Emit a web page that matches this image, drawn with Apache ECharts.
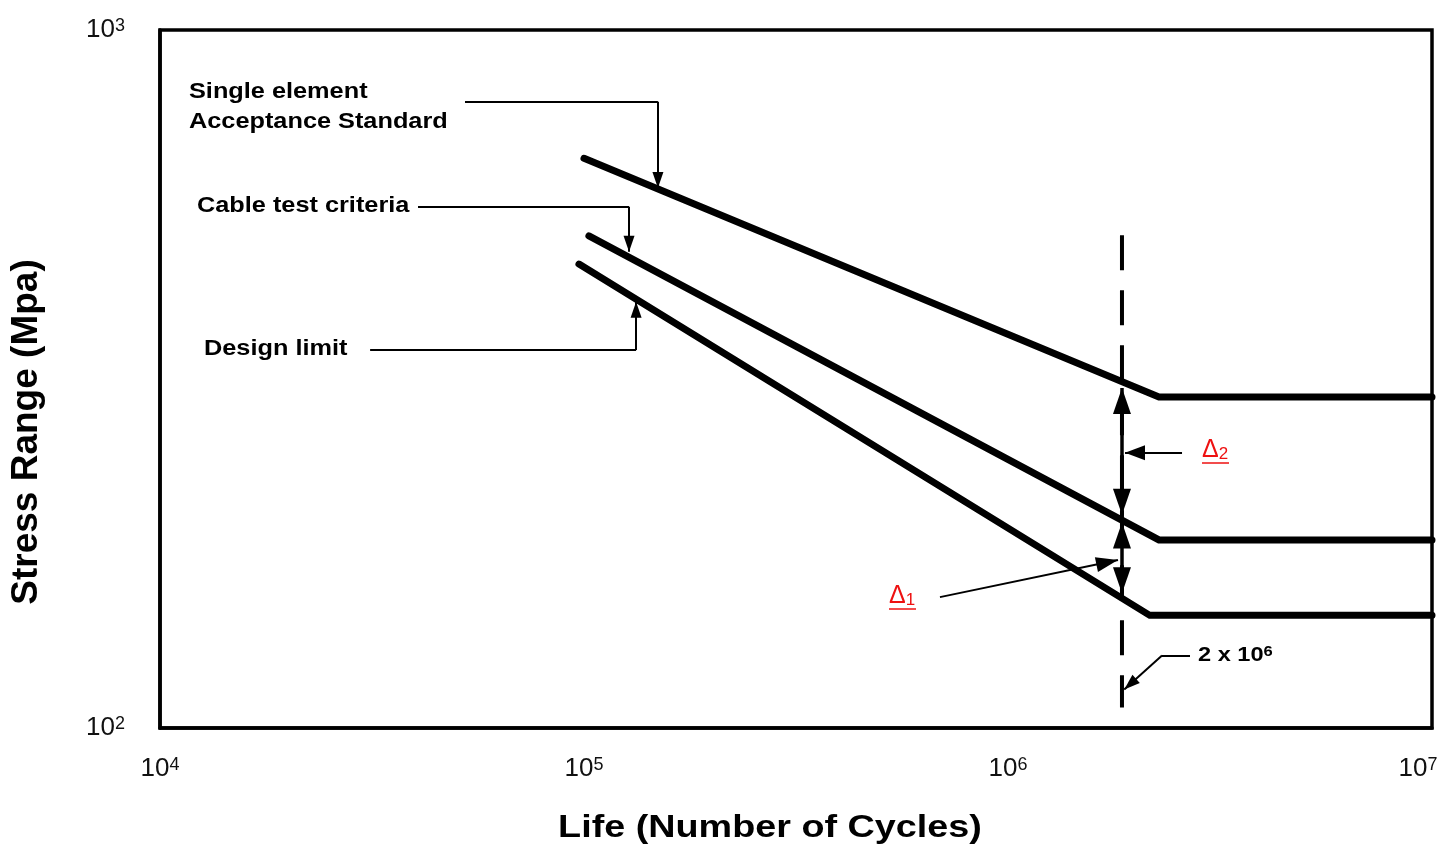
<!DOCTYPE html>
<html>
<head>
<meta charset="utf-8">
<title>Stress Range vs Life</title>
<script src="https://cdn.jsdelivr.net/npm/echarts@6/dist/echarts.min.js"></script>
<style>
html, body { margin: 0; padding: 0; background: #fff; }
#main { width: 1442px; height: 848px; }
</style>
</head>
<body>
<div id="main"></div>
<script>
// curves: [cycles, stress MPa]
var singleElement = [[1.0e5, 655], [2.27e6, 298], [1.0e7, 298]];
var cableTest = [[1.027e5, 507], [2.27e6, 186], [1.0e7, 186]];
var designLimit = [[0.973e5, 462], [2.16e6, 145], [1.0e7, 145]];
var cyclesMark = [[1.857e6, 508], [1.857e6, 107]];

// leader lines for the callouts (last point = arrow tip)
var leaderSingle = [[5.24e4, 789], [1.494e5, 789], [1.494e5, 594]];
var leaderCable = [[4.06e4, 558], [1.277e5, 558], [1.277e5, 481]];
var leaderDesign = [[3.13e4, 348], [1.327e5, 348], [1.327e5, 408]];
var leaderCycles = [[2.687e6, 127], [2.308e6, 127], [1.88e6, 113.5]];
var leaderDelta2 = [[2.573e6, 248], [1.888e6, 248]];
var leaderDelta1 = [[6.91e5, 154], [1.817e6, 174]];
var spanDelta2 = [[1.857e6, 307], [1.857e6, 202]];
var spanDelta1 = [[1.857e6, 197], [1.857e6, 156]];

var xTicks = [1e4, 1e5, 1e6, 1e7];
var yTicks = [1e2, 1e3];

var FONT = '"Liberation Sans", Arial, sans-serif';
var STRETCH = 1.18; // the source image text is a bit wider than plain Arial

function plainEnd(p) { return { coord: p, symbol: 'none' }; }
function arrowEnd(p, w, h) {
	return { coord: p, symbol: 'triangle', symbolSize: [w, h], symbolOffset: [0, h / 2] };
}

// polyline leader -> markLine segments, arrow on the last one
function leader(pts, w, h) {
	var out = [];
	for (var i = 0; i < pts.length - 1; i++) {
		var last = i === pts.length - 2;
		out.push([
			Object.assign(plainEnd(pts[i]), { lineStyle: { width: 2 } }),
			last ? arrowEnd(pts[i + 1], w, h) : plainEnd(pts[i + 1])
		]);
	}
	return out;
}
function doubleArrow(pts, w, h) {
	return [[Object.assign(arrowEnd(pts[0], w, h), { lineStyle: { width: 3.5 } }), arrowEnd(pts[1], w, h)]];
}

var marks = [].concat(
	leader(leaderSingle, 11, 16),
	leader(leaderCable, 11, 16),
	leader(leaderDesign, 11, 16),
	leader(leaderCycles, 11, 16),
	leader(leaderDelta2, 15, 20),
	leader(leaderDelta1, 15, 22),
	doubleArrow(spanDelta2, 18, 26),
	doubleArrow(spanDelta1, 18, 26)
);

var chart = echarts.init(document.getElementById('main'), null, { renderer: 'canvas' });

function curve(name, data) {
	return {
		name: name,
		type: 'line',
		data: data,
		symbol: 'none',
		lineStyle: { color: '#000', width: 7, cap: 'round', join: 'miter' },
		z: 3
	};
}

function powLabel(margin, maxVal) {
	return {
		margin: margin,
		color: '#111',
		fontFamily: FONT,
		fontSize: 26,
		formatter: function (v) {
			var s = '10{sup|' + Math.round(Math.log10(v)) + '}';
			// last x label sits pulled in from the right edge, as in the source
			if (maxVal && Math.abs(v - maxVal) < 1) s += '{pad| }';
			return s;
		},
		rich: {
			sup: { fontSize: 18, verticalAlign: 'top', lineHeight: 18, padding: [0, 0, 12, 0] },
			pad: { width: 28 }
		}
	};
}

function note(x, y, text, size) {
	return {
		type: 'text', x: x, y: y, scaleX: 1.15,
		style: { text: text, font: 'bold ' + size + 'px ' + FONT, fill: '#000', align: 'left', verticalAlign: 'middle' }
	};
}

function delta(x, y, sub) {
	return {
		type: 'text', x: x, y: y,
		style: {
			text: '\u0394{sub|' + sub + '}', font: '25px ' + FONT, fill: '#ee1111', align: 'left', verticalAlign: 'middle',
			rich: { sub: { font: '17px ' + FONT, fill: '#ee1111', verticalAlign: 'bottom', lineHeight: 14, padding: [10, 0, 0, 0] } }
		}
	};
}

var option = {
	animation: false,
	backgroundColor: '#fff',
	grid: {
		left: 160, right: 10, top: 30, bottom: 120,
		outerBoundsMode: 'none',
		show: true, borderColor: '#000', borderWidth: 3.5
	},
	xAxis: {
		type: 'log',
		logBase: 10,
		min: xTicks[0],
		max: xTicks[xTicks.length - 1],
		axisLine: { lineStyle: { color: '#000', width: 3.5 } },
		axisTick: { show: false },
		splitLine: { show: false },
		axisLabel: powLabel(28, xTicks[xTicks.length - 1])
	},
	yAxis: {
		type: 'log',
		logBase: 10,
		min: yTicks[0],
		max: yTicks[1],
		axisLine: { lineStyle: { color: '#000', width: 3.5 } },
		axisTick: { show: false },
		splitLine: { show: false },
		axisLabel: powLabel(35)
	},
	series: [
		curve('Single element Acceptance Standard', singleElement),
		curve('Cable test criteria', cableTest),
		curve('Design limit', designLimit),
		{
			name: '2 x 10^6',
			type: 'line',
			data: cyclesMark,
			symbol: 'none',
			lineStyle: { color: '#000', width: 4, type: [35, 20] },
			z: 2,
			markLine: {
				silent: true,
				animation: false,
				label: { show: false },
				lineStyle: { color: '#000', width: 2, type: 'solid' },
				itemStyle: { color: '#000' },
				data: marks
			}
		}
	],
	graphic: [
		{ type: 'text', x: 770, y: 828, scaleX: STRETCH, style: { text: 'Life (Number of Cycles)', font: 'bold 32px ' + FONT, fill: '#000', align: 'center', verticalAlign: 'middle' } },
		{ type: 'text', x: 27, y: 432, rotation: Math.PI / 2, style: { text: 'Stress Range (Mpa)', font: 'bold 37px ' + FONT, fill: '#000', align: 'center', verticalAlign: 'middle' } },
		note(189, 92, 'Single element', 22),
		note(189, 122, 'Acceptance Standard', 22),
		note(197, 206, 'Cable test criteria', 22),
		note(204, 349, 'Design limit', 22),
		{
			type: 'text', x: 1198, y: 655, scaleX: STRETCH,
			style: {
				text: '2 x 10{sup|6}', font: 'bold 20px ' + FONT, fill: '#000', align: 'left', verticalAlign: 'middle',
				rich: { sup: { font: 'bold 14px ' + FONT, verticalAlign: 'top', lineHeight: 14, padding: [0, 0, 10, 0] } }
			}
		},
		delta(1202, 450, '2'),
		{ type: 'line', shape: { x1: 1202, y1: 463, x2: 1229, y2: 463 }, style: { stroke: '#ee1111', lineWidth: 1.5 } },
		delta(889, 596, '1'),
		{ type: 'line', shape: { x1: 889, y1: 609, x2: 916, y2: 609 }, style: { stroke: '#ee1111', lineWidth: 1.5 } }
	]
};

chart.setOption(option);
</script>
</body>
</html>
